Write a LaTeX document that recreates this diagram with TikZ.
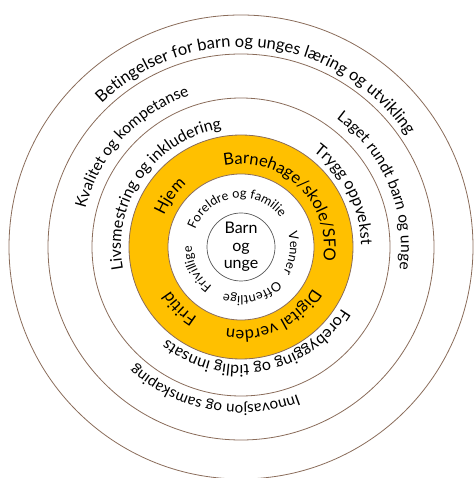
\documentclass[tikz,border=0pt]{standalone}
\usepackage{fontspec}
\setmainfont{Lato}
\usetikzlibrary{decorations.text}
\definecolor{ringline}{RGB}{138,108,90}
\definecolor{ringfill}{RGB}{255,192,0}

% radius, middle angle, font size, text (clockwise, letters outward)
\newcommand{\ringtext}[4]{%
  \path[decorate, decoration={text along path, text align=center,
      text={|\fontsize{#3}{#3}\selectfont|#4}}]
    ({#2+90}:#1) arc[start angle={#2+90}, end angle={#2-90}, radius=#1];}

\begin{document}
\begin{tikzpicture}[x=1pt, y=1pt]
    \useasboundingbox (-241,-231) rectangle (233,247);

    \fill[ringfill] (0,0) circle (112);
    \fill[white] (0,0) circle (73);
    \foreach \r in {232,193,149,112,73}
      \draw[ringline, line width=0.8pt] (0,0) circle (\r);
    \draw[black!65, line width=0.7pt] (0,0) circle (34);

    \node[align=center, font=\fontsize{16}{17.5}\selectfont] (core) at (0,0) {Barn\\og\\unge};

    % outer ring
    \ringtext{200}{84}{16.5}{Betingelser for barn og unges læring og utvikling}
    % second ring
    \ringtext{160}{137.5}{15.5}{Kvalitet og kompetanse}
    \ringtext{160}{22.7}{15.5}{Laget rundt barn og unge}
    \ringtext{158}{-100.5}{15.2}{Innovasjon og samskaping}
    % third ring
    \ringtext{120}{145}{16}{Livsmestring og inkludering}
    \ringtext{120}{27}{16}{Trygg oppvekst}
    \ringtext{118}{-80}{16}{Forebygging og tidlig innsats}
    % orange ring
    \ringtext{83}{46}{16.5}{Barnehage/skole/SFO}
    \ringtext{83}{144.5}{16.5}{Hjem}
    \ringtext{83}{-65}{16.5}{Digital verden}
    \ringtext{83}{-135}{16.5}{Fritid}
    % inner white ring
    \ringtext{49}{97.7}{12.8}{Foreldre og familie}
    \ringtext{49}{-7}{12.8}{Venner}
    \ringtext{49}{-76.5}{12.8}{Offentlige}
    \ringtext{49}{-153.5}{12.8}{Frivillige}
\end{tikzpicture}
\end{document}
